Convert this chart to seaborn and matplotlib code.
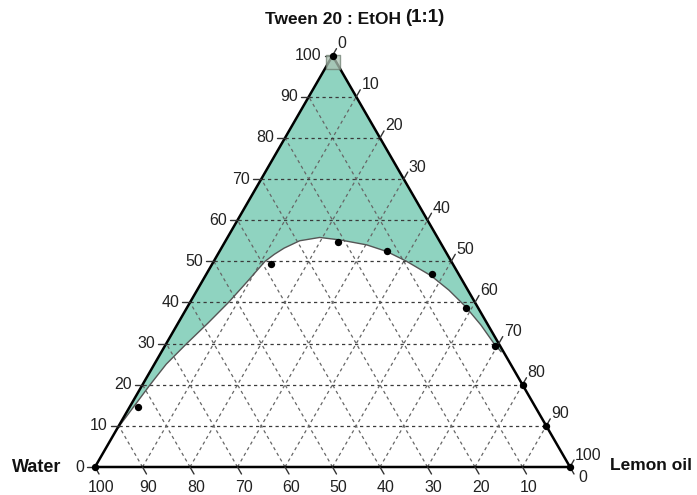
import numpy as np
import pandas as pd
import matplotlib
matplotlib.use("Agg")
import matplotlib.pyplot as plt
import seaborn as sns

# ---------------- data ----------------
title_main = "Tween 20 : EtOH"
title_ratio = "(1:1)"
label_left_vertex = "Water"
label_right_vertex = "Lemon oil"
tick_values = [0, 10, 20, 30, 40, 50, 60, 70, 80, 90, 100]

# measured points (percent): oil, tween (water = 100 - oil - tween)
pts_oil = [0, 0, 100, 1.8, 12.4, 23.9, 35.2, 47.5, 58.7, 69.5, 80, 90]
pts_tween = [100, 0, 0, 14.7, 49.3, 54.7, 52.4, 47.0, 38.6, 29.4, 20, 10]

# phase boundary (percent): oil, tween
bnd_oil = [0, 0.8, 1.6, 2.5, 4.3, 6.3, 8.1, 9.5, 10.8, 11.9, 13.2, 15.6,
           19.4, 24.0, 30.2, 35.2, 40.6, 47.5, 53.0, 58.5, 64.0, 69.0, 71.5]
bnd_tween = [9, 14.5, 20, 25, 30, 35, 40, 45, 50, 51.7, 53.2, 55.0,
             55.8, 55.2, 54.0, 52.4, 50.0, 46.5, 43.0, 39.0, 34.5, 30.0, 28.0]

# ---------------- geometry helpers ----------------
H = np.sqrt(3) / 2
U = 475.0  # pixels per unit side


def tern(oil, tween):
    o = np.asarray(oil, dtype=float) / 100.0
    t = np.asarray(tween, dtype=float) / 100.0
    return o + t / 2, t * H


def px(dx, dy):
    """pixel offset (dy positive = up) to data units"""
    return dx / U, dy / U


sns.set_style("white")
plt.rcParams['font.family'] = ['Liberation Sans', 'DejaVu Sans']

fig = plt.figure(figsize=(6.97, 4.95), dpi=100)
ax = fig.add_axes([0, 0, 1, 1])
ax.set_xlim(-95 / U, (697 - 95) / U)
ax.set_ylim(-28 / U, 467 / U)
ax.set_axis_off()

green = "#8fd3c0"

# ---------------- green region ----------------
bx, by = tern(bnd_oil, bnd_tween)
t_end = bnd_tween[-1]
poly_x = [0.5, 1 - t_end / 200.0] + list(bx[::-1]) + [0.0 + bnd_tween[0] / 200.0]
poly_y = [H, t_end / 100.0 * H] + list(by[::-1]) + [bnd_tween[0] / 100.0 * H]
ax.fill(poly_x, poly_y, color=green, zorder=1, lw=0)

# ---------------- grid ----------------
for v in tick_values[1:-1]:
    f = v / 100.0
    # constant tween (horizontal)
    ax.plot([f / 2, 1 - f / 2], [f * H, f * H], color="#3a3a3a", lw=0.9,
            ls=(0, (2.6, 2.6)), zorder=2)
    # constant oil (parallel to left edge)
    x0, y0 = tern(v, 0)
    x1, y1 = tern(v, 100 - v)
    ax.plot([x0, x1], [y0, y1], color="#666666", lw=0.9, ls=(0, (2.6, 2.6)), zorder=2)
    # constant water (parallel to right edge)
    x0, y0 = tern(100 - v, 0)
    x1, y1 = tern(0, 100 - v)
    ax.plot([x0, x1], [y0, y1], color="#666666", lw=0.9, ls=(0, (2.6, 2.6)), zorder=2)

# boundary curve
bdf = pd.DataFrame({"x": bx, "y": by})
sns.lineplot(data=bdf, x="x", y="y", sort=False, color="#555555", lw=1.0, ax=ax, zorder=3)

# triangle edges
ax.plot([0, 1, 0.5, 0], [0, 0, H, 0], color="black", lw=1.8, zorder=4,
        solid_joinstyle="round")

# ---------------- ticks & labels ----------------
tick_color = "#333333"
fs = 11.5
for v in tick_values:
    f = v / 100.0
    # left axis: tween %
    x, y = f / 2, f * H
    dx, _ = px(8, 0)
    ax.plot([x, x - dx], [y, y], color=tick_color, lw=1.0, zorder=4)
    ox, _ = px(11, 0)
    ax.text(x - ox, y, str(v), ha="right", va="center", fontsize=fs, color="#222222")
    # right axis: lemon oil %
    x, y = 1 - f / 2, f * H
    tx, ty = px(4, 7)
    ax.plot([x, x + tx], [y, y + ty], color=tick_color, lw=1.0, zorder=4)
    lx, ly = px(5, 12)
    ax.text(x + lx, y + ly, str(100 - v), ha="left", va="center", fontsize=fs,
            color="#222222")
    # bottom axis: water %
    x, y = f, 0.0
    tx, ty = px(4, -7)
    ax.plot([x, x + tx], [y, y + ty], color=tick_color, lw=1.0, zorder=4)
    if v == 100:
        lx, ly = px(13, -11)
    else:
        lx, ly = px(6, -21)
    ax.text(x + lx, y + ly, str(100 - v), ha="center", va="center", fontsize=fs,
            color="#222222")

# ---------------- data points ----------------
sx, sy = tern(pts_oil, pts_tween)
pdf = pd.DataFrame({"x": sx, "y": sy})
# faint square marker at the apex
ax.scatter([sx[0]], [sy[0] - 6 / U], marker="s", s=110, color="#adc2b3",
           edgecolor="#6f7f72", lw=1.0, alpha=0.75, zorder=5)
sns.scatterplot(data=pdf, x="x", y="y", color="black", s=28, edgecolor="black",
                linewidth=0, ax=ax, zorder=6)
ax.set_xlabel("")
ax.set_ylabel("")

# ---------------- titles ----------------
ax.text((265 - 95) / U, (467 - 20) / U, title_main, ha="left", va="center",
        fontsize=12.5, fontweight="bold", color="#111111")
ax.text((405 - 95) / U, (467 - 18) / U, title_ratio, ha="left", va="center",
        fontsize=13.5, fontweight="bold", color="#111111")
ax.text((12 - 95) / U, 0, label_left_vertex, ha="left", va="center",
        fontsize=13, fontweight="bold", color="#111111")
ax.text((610 - 95) / U, (467 - 465) / U, label_right_vertex, ha="left",
        va="center", fontsize=12.5, fontweight="bold", color="#111111")

fig.savefig("out.png", dpi=100)
